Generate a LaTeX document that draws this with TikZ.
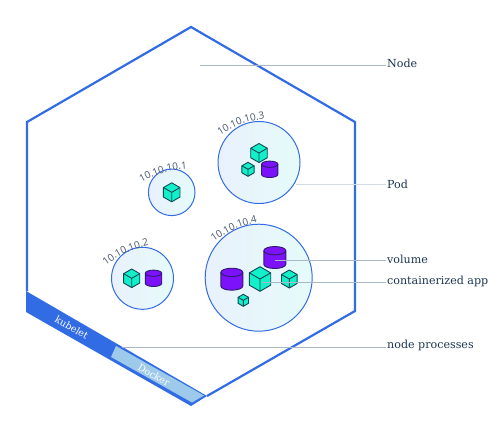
\documentclass[tikz,border=0pt]{standalone}
\usepackage{fontspec}
\setmainfont{DejaVu Serif}
\newfontfamily\ipfont{Open Sans}
\usetikzlibrary{decorations.text}
\definecolor{hexblue}{HTML}{326CE5}
\definecolor{dockerblue}{HTML}{9DC9EA}
\definecolor{inktext}{HTML}{1A3552}
\definecolor{iptext}{HTML}{44566C}
\definecolor{leader}{HTML}{A9B8C6}
\definecolor{cubefill}{HTML}{11F0C8}
\definecolor{cubeline}{HTML}{0F4A56}
\definecolor{cylfill}{HTML}{7B12F9}
\definecolor{cylline}{HTML}{2E1A70}
\definecolor{podleft}{HTML}{E8F1FD}
\definecolor{podright}{HTML}{E6FBF9}
\tikzset{pod/.style={draw=hexblue, line width=1pt, left color=podleft, right color=podright},
lead/.style={draw=leader, line width=0.8pt},
lab/.style={text=inktext, font=\fontsize{11.1}{13}\selectfont, anchor=west, inner sep=1pt},
proc/.style={text=white, font=\fontsize{9.6}{11}\selectfont, rotate=-30, inner sep=0pt},
iplabel/.style={decorate, decoration={text along path, text color=iptext, text align=center, text={|\ipfont\fontsize{10}{12}\selectfont|#1}}},
cube/.pic={
  \draw[fill=cubefill, draw=cubeline, line width=0.9pt, line join=round]
    (0,-1) -- (.87,-.5) -- (.87,.5) -- (0,1) -- (-.87,.5) -- (-.87,-.5) -- cycle;
  \draw[draw=cubeline, line width=0.9pt] (-.87,-.5) -- (0,0) -- (.87,-.5) (0,0) -- (0,1);
},
cyl/.pic={
  \fill[cylfill] (-1,-.62) rectangle (1,.62);
  \fill[cylfill] (0,-.62) ellipse [x radius=1, y radius=.38];
  \fill[cylfill] (0,.62) ellipse [x radius=1, y radius=.38];
  \draw[draw=cylline, line width=0.9pt] (-1,-.62) arc[start angle=180, end angle=0, x radius=1, y radius=.38];
  \draw[draw=cylline, line width=0.9pt] (1,-.62) arc[start angle=0, end angle=-180, x radius=1, y radius=.38]
    -- (-1,.62) arc[start angle=180, end angle=0, x radius=1, y radius=.38] -- cycle;
}}

\begin{document}
\begin{tikzpicture}[x=1pt, y=-1pt]

    \useasboundingbox (0,0) rectangle (504,432);

    \coordinate (a) at (27,291);
    \coordinate (b) at (27,122);
    \coordinate (c) at (191,27);
    \coordinate (d) at (355,122);
    \coordinate (e) at (355,311);
    \coordinate (f) at (207,396);
    \coordinate (g) at (191,406);
    \coordinate (h) at (26,312);

    % band with the processes
    \fill[hexblue] (26,291) -- (f) -- (g) -- (h) -- cycle;
    \fill[dockerblue] (116,346) -- (204,395.5) -- (192,402.5) -- (111,357) -- cycle;
    \draw[hexblue, line width=2.2pt, line join=miter] (a) -- (b) -- (c) -- (d) -- (e) -- (f);

    \node[proc] (kubelet) at (71.7,327.3) {kubelet};
    \node[proc] (docker) at (154,375) {Docker};

    % pods
    \foreach \name/\cx/\cy/\rad in {podA/171.7/192.3/23.3, podB/142.5/278.3/31, podC/259/162.5/41, podD/258.7/277.7/53.5}
    \draw[pod] (\cx,\cy) circle (\rad);

    \path[iplabel={10.10.10.1}] (143.3,181.7) to[bend left=12] (185,169);
    \path[iplabel={10.10.10.2}] (106.7,265) to[bend left=12] (148,245.5);
    \path[iplabel={10.10.10.3}] (220.7,135) to[bend left=12] (264,119);
    \path[iplabel={10.10.10.4}] (213.7,242) to[bend left=12] (257.5,222.5);

    % containers
    \foreach \cx/\cy/\rad in {171.7/192.3/9.5, 131.7/278.3/9.3, 259/153/9.5, 248/169.3/7, 260/279/12.3, 289.3/279/9, 243.3/300.3/6}
    \pic[scale=\rad] at (\cx,\cy) {cube};

    % volumes
    \foreach \cx/\cy/\rad in {153.5/278.3/8.2, 269.7/169.3/8.2, 274.8/257.5/11, 231.8/279.2/11}
    \pic[scale=\rad] at (\cx,\cy) {cyl};

    % labels
    \node[lab] (node) at (386,63.5) {Node};
    \node[lab] (podlab) at (386,184) {Pod};
    \node[lab] (volume) at (386,259.5) {volume};
    \node[lab] (app) at (386,281.5) {containerized app};
    \node[lab] (procs) at (386,345.5) {node processes};

    \coordinate (nodeend) at (200,65);
    \coordinate (podend) at (296,184.5);
    \coordinate (volend) at (275,260);
    \coordinate (append) at (262,282);
    \coordinate (procend) at (122,347);

    \draw[lead] (nodeend) -- (nodeend -| node.west);
    \draw[lead, draw=leader!50, line width=1.2pt] (podend) -- (podend -| podlab.west);
    \draw[lead] (volend) -- (volend -| volume.west);
    \draw[lead] (append) -- (append -| app.west);
    \draw[lead] (procend) -- (procend -| procs.west);

  \end{tikzpicture}
\end{document}
